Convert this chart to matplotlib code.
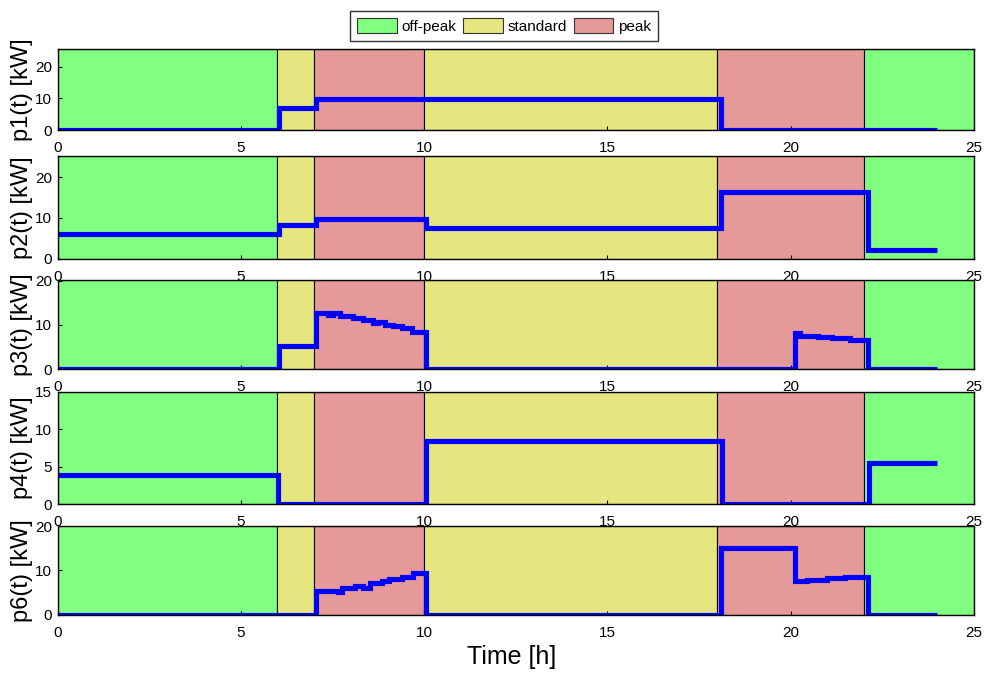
import matplotlib
matplotlib.use("Agg")
import matplotlib.pyplot as plt
from matplotlib.patches import Patch
from matplotlib import font_manager

# ---------------- data ----------------
period_names = ["off-peak", "standard", "peak"]
period_colors = ["#80FF80", "#E6E680", "#E69999"]
period_starts = [0, 6, 7, 10, 18, 22]
period_ends = [6, 7, 10, 18, 22, 25]
period_kind = [0, 1, 2, 1, 2, 0]

p1_edges = [0, 6.04, 7.04, 18.1, 24]
p1_vals = [0, 6.9, 9.7, 0]

p2_edges = [0, 6.04, 7.04, 10.04, 18.1, 22.1, 24]
p2_vals = [6.0, 8.3, 9.75, 7.6, 16.3, 2.1]

p3_edges = [0, 6.04, 7.04, 7.39, 7.52, 7.71, 8.07, 8.34, 8.61, 8.75, 8.93,
            9.16, 9.39, 9.66, 10.04, 20.12, 20.25, 20.75, 21.12, 21.62, 22.12, 24]
p3_vals = [0, 5.2, 12.65, 12.27, 12.8, 12.05, 11.5, 11.1, 10.4, 10.75, 10.0,
           9.8, 9.24, 8.5, 0, 8.1, 7.57, 7.35, 6.97, 6.6, 0]

p4_edges = [0, 6.02, 10.04, 18.12, 22.14, 24]
p4_vals = [3.86, 0, 8.47, 0, 5.46]

p6_edges = [0, 7.04, 7.34, 7.66, 7.75, 8.12, 8.34, 8.52, 8.84, 9.03, 9.39,
            9.71, 10.04, 18.1, 20.12, 20.44, 20.98, 21.48, 22.12, 24]
p6_vals = [0, 5.2, 5.3, 5.0, 6.1, 6.4, 6.1, 7.05, 7.6, 8.0, 8.55, 9.3, 0,
           15.0, 7.6, 7.8, 8.2, 8.55, 0]

series_labels = ["p1(t) [kW]", "p2(t) [kW]", "p3(t) [kW]", "p4(t) [kW]", "p6(t) [kW]"]
series_edges = [p1_edges, p2_edges, p3_edges, p4_edges, p6_edges]
series_vals = [p1_vals, p2_vals, p3_vals, p4_vals, p6_vals]
y_max = [25.7, 25.3, 20.2, 15, 20]
y_ticks = [[0, 10, 20], [0, 10, 20], [0, 10, 20], [0, 5, 10, 15], [0, 10, 20]]
x_ticks = [0, 5, 10, 15, 20, 25]

# ---------------- style ----------------
installed = {f.name for f in font_manager.fontManager.ttflist}
fam = [f for f in ["Liberation Sans Narrow", "Liberation Sans", "DejaVu Sans"] if f in installed]
plt.rcParams["font.family"] = fam

W, H = 984, 673
fig = plt.figure(figsize=(W / 100, H / 100), dpi=100)

# pixel boxes (top, bottom) of each panel
panel_px = [(49, 130), (156, 258.5), (280, 369), (391.7, 504.3), (526, 614.5)]
left_px, right_px = 57.5, 974

for i, (top, bot) in enumerate(panel_px):
    ax = fig.add_axes([left_px / W, 1 - bot / H, (right_px - left_px) / W, (bot - top) / H])
    for s, e, k in zip(period_starts, period_ends, period_kind):
        ax.axvspan(s, e, facecolor=period_colors[k], edgecolor="black", linewidth=0.8, zorder=0)
    st = ax.stairs(series_vals[i], series_edges[i], baseline=None, color="#0000FF",
                   linewidth=3.7, zorder=3)
    st.set_joinstyle("miter")
    st.set_capstyle("butt")
    ax.set_xlim(0, 25)
    ax.set_ylim(0, y_max[i])
    ax.set_xticks(x_ticks)
    ax.set_yticks(y_ticks[i])
    ax.tick_params(direction="in", length=3, labelsize=11)
    ax.tick_params(axis="x", pad=8)
    ax.tick_params(axis="y", pad=4)
    ax.set_ylabel(series_labels[i], fontsize=17)
    ax.yaxis.set_label_coords(-0.027, 0.5)
    for sp in ax.spines.values():
        sp.set_linewidth(1.0)
        sp.set_color("black")
        sp.set_zorder(5)

fig.text(512 / W, 1 - 657 / H, "Time [h]", fontsize=18, ha="center", va="center")

handles = [Patch(facecolor=c, edgecolor="#333333", linewidth=0.8) for c in period_colors]
leg = fig.legend(handles, period_names, loc="center", bbox_to_anchor=(504 / W, 1 - 26 / H),
                 ncol=3, fontsize=11, frameon=True, fancybox=False, edgecolor="black",
                 handlelength=2.6, handleheight=1.05, handletextpad=0.3, columnspacing=0.45,
                 borderpad=0.45, borderaxespad=0)
leg.get_frame().set_linewidth(1.0)

fig.savefig("out.png", dpi=100)
